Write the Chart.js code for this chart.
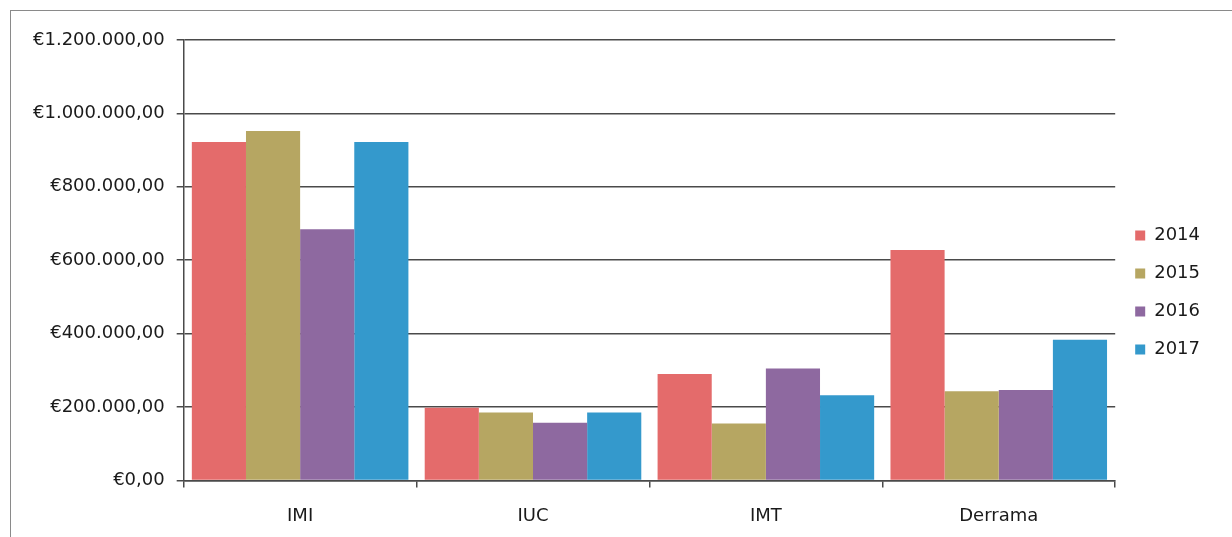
<!DOCTYPE html>
<html>
<head>
<meta charset="utf-8">
<script src="https://cdn.jsdelivr.net/npm/chart.js@4"></script>
<style>
    body { margin: 0; background: #fff; overflow: hidden; }
    #BOX_Chart {
        position: absolute; left: 10px; top: 10px;
        width: 1230px; height: 537px;
        border-left: 1.5px solid #8a8a8a; border-top: 1.5px solid #8a8a8a;
        box-sizing: border-box;
    }
</style>
</head>
<body>
<div id="BOX_Chart"><canvas id="CHART_Taxes"></canvas></div>
<script>
const categories = ['IMI', 'IUC', 'IMT', 'Derrama'];
const years = ['2014', '2015', '2016', '2017'];
const values2014 = [922000, 198000, 290000, 628000];
const values2015 = [952000, 185000, 155000, 243000];
const values2016 = [684000, 157000, 305000, 246000];
const values2017 = [922000, 185000, 232000, 383000];
const yearColors = ['#e46b6b', '#b6a662', '#8e69a0', '#3499cc'];

const FontColor = '#1a1a1a';
const GridColor = '#4a4a4a';

function euro(v) {
    let s = Math.round(v).toString().replace(/\B(?=(\d{3})+(?!\d))/g, '.');
    return '€' + s + ',00';
}

let seriesValues = [values2014, values2015, values2016, values2017];
let data = { labels: categories, datasets: [] };
for (let i = 0; i < years.length; i++) {
    data.datasets.push({
        label: years[i],
        data: seriesValues[i],
        backgroundColor: yearColors[i],
        borderWidth: 0,
        barPercentage: 1.0,
        categoryPercentage: 0.93
    });
}

let chartHtml = document.getElementById('CHART_Taxes').getContext('2d');
let chart = new Chart(chartHtml, {
    type: 'bar',
    data: data,
    options: {
        animation: false,
        responsive: true,
        maintainAspectRatio: false,
        layout: { padding: { top: 29, right: 30, bottom: 2, left: 10 } },
        plugins: {
            tooltip: { enabled: false },
            legend: {
                position: 'right',
                labels: {
                    color: FontColor,
                    font: { family: 'DejaVu Sans', size: 18 },
                    boxWidth: 10,
                    boxHeight: 10,
                    padding: 20
                }
            }
        },
        scales: {
            x: {
                grid: { offset: true, drawOnChartArea: false, color: GridColor, tickLength: 7, lineWidth: 1.5 },
                border: { color: GridColor, width: 1.5 },
                ticks: { color: FontColor, font: { family: 'DejaVu Sans', size: 18 }, padding: 18 }
            },
            y: {
                min: 0,
                max: 1200000,
                ticks: {
                    stepSize: 200000,
                    color: FontColor,
                    font: { family: 'DejaVu Sans', size: 18 },
                    padding: 12,
                    callback: (v) => euro(v)
                },
                grid: { color: GridColor, tickLength: 7, lineWidth: 1.5 },
                border: { color: GridColor, width: 1.5 }
            }
        }
    }
});
</script>
</body>
</html>
